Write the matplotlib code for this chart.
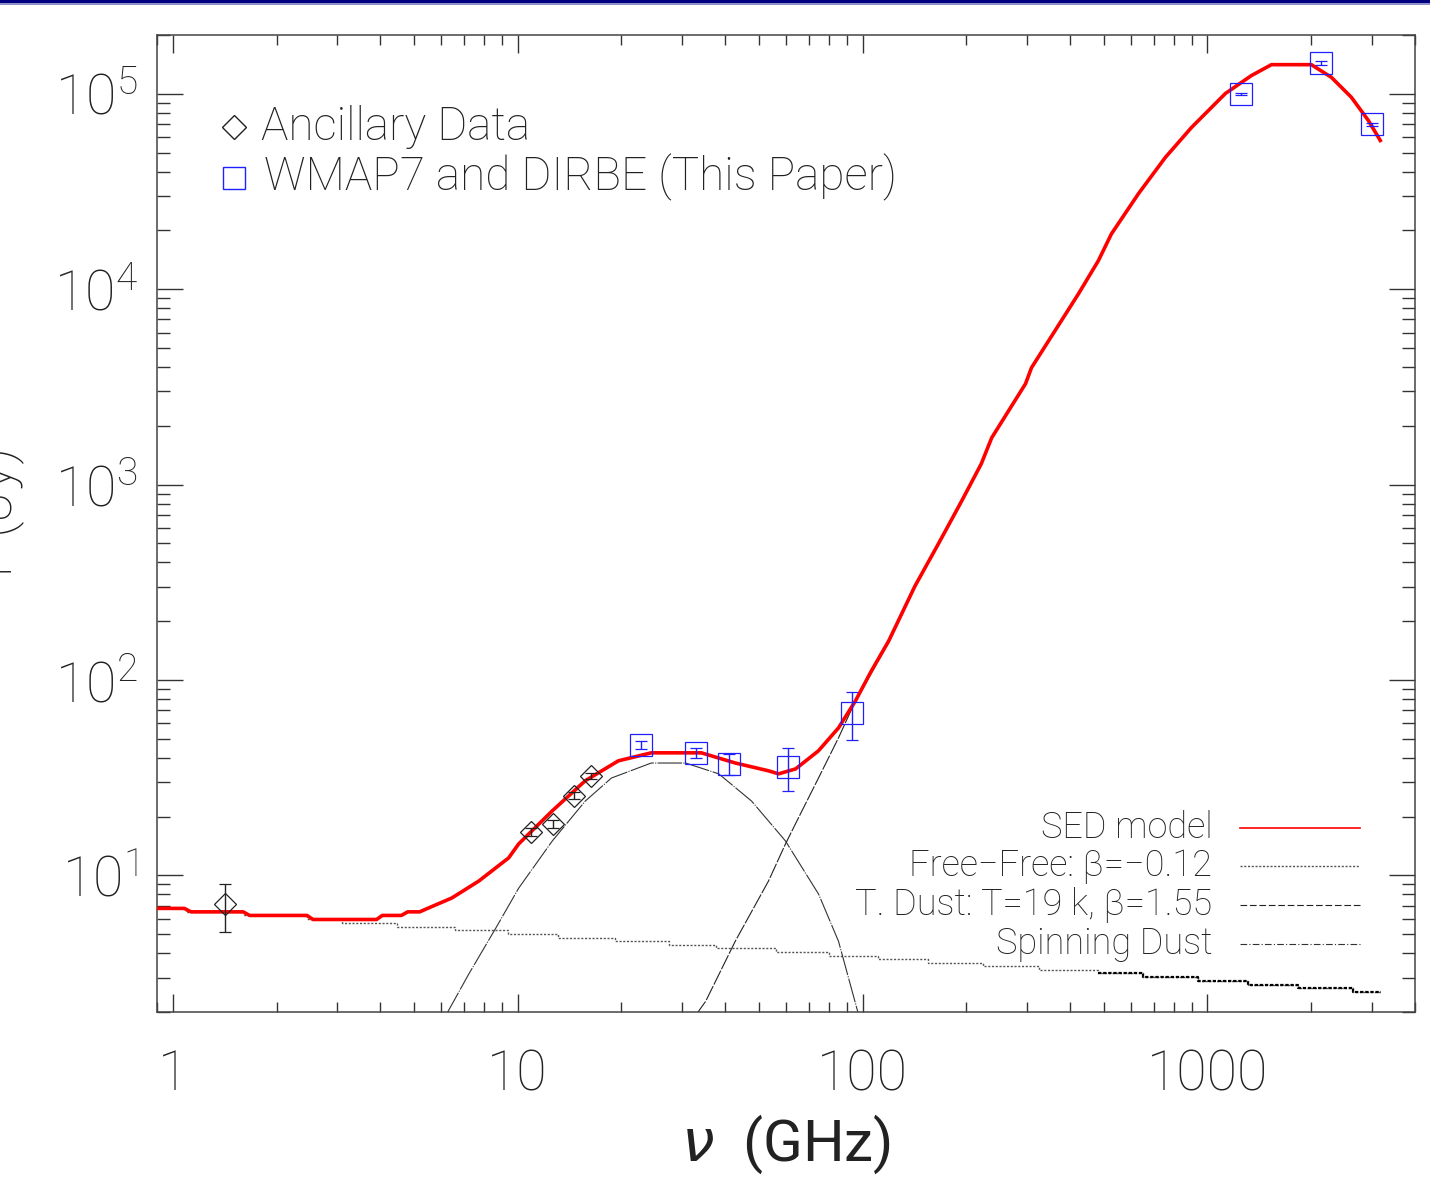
import numpy as np
import matplotlib
matplotlib.use('Agg')
import matplotlib.pyplot as plt
from matplotlib.patches import Rectangle

plt.rcParams['font.family'] = ['Roboto', 'DejaVu Sans']
plt.rcParams['font.weight'] = 'light'
plt.rcParams['mathtext.default'] = 'regular'

# SED model (red)
sed_nu = [0.9, 1.08, 1.13, 1.6, 1.67, 2.45, 2.55, 3.9, 4.05, 4.6, 4.8, 5.2, 5.5,
          6.44, 7.71, 9.42, 10.07, 12.6, 15.7, 19.6, 24.4, 34.1, 42.8, 53.4, 57.1,
          64.0, 74.5, 85.2, 95.4, 106, 119, 142, 166, 194, 221, 237, 297, 309, 423,
          483, 527, 631, 755, 899, 1128, 1342, 1534, 2002, 2287, 2614, 2930, 3172]
sed_jy = [6.78, 6.78, 6.51, 6.51, 6.24, 6.24, 5.95, 5.95, 6.24, 6.24, 6.51, 6.51, 6.8,
          7.66, 9.35, 12.3, 14.5, 21.4, 30.5, 38.6, 42.4, 42.4, 37.6, 34.3, 33.1,
          35.1, 43.4, 56.9, 78.2, 111, 158, 303, 498, 826, 1278, 1738, 3284, 3963, 9480,
          14000, 19200, 30800, 47200, 67200, 100400, 124000, 141000, 141000, 121600, 96100, 73000, 57700]

# free-free component (stepped, dotted)
ff_nu = [0.9, 1.09, 1.61, 2.45, 3.1, 4.46, 6.6, 9.4, 13.1, 19.2, 27.4, 37.5, 56.0,
         79.7, 111, 155, 224, 324, 483, 652, 941, 1315, 1835, 2650, 3194]
ff_jy = [6.78, 6.51, 6.24, 5.95, 5.72, 5.46, 5.23, 5.02, 4.81, 4.62, 4.41, 4.24, 4.06,
         3.89, 3.74, 3.57, 3.42, 3.27, 3.15, 3.01, 2.87, 2.76, 2.64, 2.53, 2.53]

# thermal dust component
dust_nu = [33.0, 35.1, 42.8, 53.4, 59.8, 65.2, 74.6, 85.2, 95.4, 106, 119, 142]
dust_jy = [1.95, 2.27, 4.62, 9.37, 14.5, 19.7, 31.6, 50.6, 78.3, 108, 155, 300]

# spinning dust component
spin_nu = [6.22, 7.21, 8.64, 10.07, 12.6, 15.7, 18.7, 24.4, 30.7, 38.3, 47.7, 59.8, 74.6, 85.2, 97.3]
spin_jy = [1.95, 3.12, 5.37, 8.61, 15.0, 24.0, 31.5, 37.6, 37.6, 33.1, 24.0, 15.0, 8.02, 4.60, 1.95]

# ancillary data (diamonds)
anc_nu = [1.42, 10.9, 12.7, 14.6, 16.3]
anc_jy = [7.1, 16.7, 18.4, 25.6, 32.4]
anc_err = [1.95, 0.8, 0.9, 1.0, 1.2]

# WMAP7 and DIRBE (squares)
wmap_nu = [22.8, 33.0, 40.9, 61.0, 93.5, 1249, 2141, 2997]
wmap_jy = [46.6, 42.4, 37.2, 35.9, 67.9, 1.0e5, 1.44e5, 6.98e4]
wmap_err = [2.0, 2.4, 4.4, 8.8, 18.6, 800, 3500, 1500]

xtick_vals = [1, 10, 100, 1000]
xtick_labels = ['1', '10', '100', '1000']
ytick_vals = [1e1, 1e2, 1e3, 1e4, 1e5]
ytick_labels = ['$10^{1}$', '$10^{2}$', '$10^{3}$', '$10^{4}$', '$10^{5}$']

legend_labels = ['SED model', 'Free\u2212Free: \u03b2=\u22120.12',
                 'T. Dust: T=19 k, \u03b2=1.55', 'Spinning Dust']

fig = plt.figure(figsize=(14.3, 11.88), dpi=100)
ax = fig.add_axes([157/1430, 1 - 1012/1188, 1258/1430, 977/1188])

# slide header band at the very top
fig.add_artist(Rectangle((0, 1 - 3.5/1188), 1, 3.5/1188, transform=fig.transFigure,
                         color='#000080', lw=0))
fig.add_artist(Rectangle((0, 1 - 5/1188), 1, 1.5/1188, transform=fig.transFigure,
                         color='#9090c8', lw=0))

ff_style = dict(color='#555555', lw=1.0, dashes=(1.5, 1.2))
dust_style = dict(color='#222222', lw=0.8, dashes=(14, 1.5))
spin_style = dict(color='#333333', lw=0.8, dashes=(22, 1.2, 1, 1.2))

ax.plot(ff_nu, ff_jy, drawstyle='steps-post', **ff_style)
ax.plot(ff_nu[18:], ff_jy[18:], drawstyle='steps-post', color='black', lw=1.6, dashes=(1.5, 0.8))
ax.plot(spin_nu, spin_jy, **spin_style)
ax.plot(dust_nu, dust_jy, **dust_style)
ax.plot(sed_nu, sed_jy, color='#ff0000', lw=2.6, zorder=4)

ax.errorbar(anc_nu, anc_jy, yerr=anc_err, fmt='D', ms=11.5, mfc='none', mec='#222222',
            mew=0.9, ecolor='#222222', elinewidth=1.0, capsize=4.5, zorder=5)
ax.errorbar(wmap_nu, wmap_jy, yerr=wmap_err, fmt='s', ms=16, mfc='none', mec='#2020ff',
            mew=0.9, ecolor='#2020ff', elinewidth=1.0, capsize=4.5, zorder=5)

ax.set_xscale('log')
ax.set_yscale('log')
ax.set_xlim(0.9, 4000)
ax.set_ylim(2, 2e5)

ax.set_xticks(xtick_vals, xtick_labels)
ax.set_yticks(ytick_vals, ytick_labels)
ax.tick_params(which='both', direction='in', top=True, right=True, color='#333333')
ax.tick_params(axis='x', which='major', length=13, width=1.0, pad=26, labelsize=40, labelcolor='#222222')
ax.tick_params(axis='x', which='minor', length=7.5, width=1.0)
ax.tick_params(axis='y', which='major', length=19, width=1.0, pad=14, labelsize=40, labelcolor='#222222')
ax.tick_params(axis='y', which='minor', length=9.5, width=1.0)
for s in ax.spines.values():
    s.set_color('#444444')
    s.set_linewidth(1.1)

ax.set_xlabel('$\\mathit{\\nu}$  (GHz)', fontsize=42, color='#222222', labelpad=8)
fig.text(24/1430, 1 - 512/1188, 'I  (Jy)', rotation=90, ha='right', va='center',
         fontsize=40, color='#222222')

# upper-left key
ax.plot([0.061], [0.906], 'D', ms=12, mfc='none', mec='#222222', mew=1.0, transform=ax.transAxes)
ax.text(0.083, 0.906, 'Ancillary Data', transform=ax.transAxes, fontsize=33,
        va='center', ha='left', color='#222222')
ax.plot([0.061], [0.854], 's', ms=16, mfc='none', mec='#2020ff', mew=1.0, transform=ax.transAxes)
ax.text(0.085, 0.854, 'WMAP7 and DIRBE (This Paper)', transform=ax.transAxes, fontsize=33,
        va='center', ha='left', color='#222222')

# lower-right key
key_styles = [dict(color='#ff0000', lw=1.2), ff_style,
              dict(color='#222222', lw=0.8, dashes=(6, 2.5)),
              dict(color='#333333', lw=0.8, dashes=(6, 2, 1, 2))]
key_y = [0.188, 0.149, 0.110, 0.070]
for lab, st, yy in zip(legend_labels, key_styles, key_y):
    ax.plot([0.861, 0.956], [yy, yy], transform=ax.transAxes, **st)
    ax.text(0.839, yy, lab, transform=ax.transAxes, fontsize=26, ha='right',
            va='center', color='#222222')

fig.savefig('out.png', dpi=100)
